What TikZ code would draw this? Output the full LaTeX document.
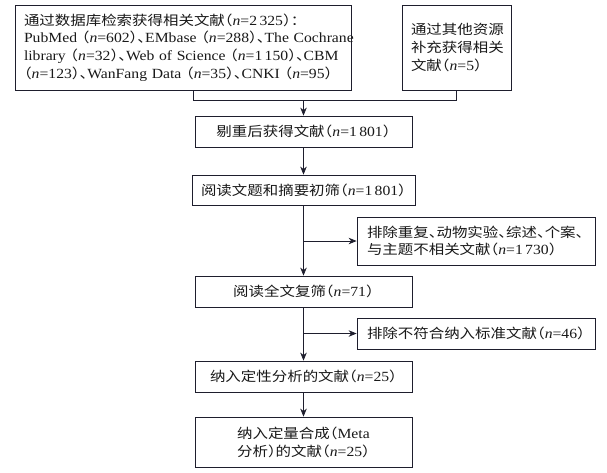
\documentclass[tikz,border=0pt]{standalone}
\usepackage{fontspec}
\setmainfont{Liberation Serif}[FakeStretch=1.12]
\newfontfamily\cjk{Noto Sans CJK SC}[Scale=0.96,FakeStretch=1.15,RawFeature={+halt}]
\usetikzlibrary{arrows.meta}
\newcommand{\C}[1]{{\cjk #1}}
\newcommand{\nn}{\textit{n}}
\newcommand{\dun}{\C{、}}
\definecolor{ln}{RGB}{30,30,45}
\definecolor{tx}{RGB}{25,25,25}
\begin{document}
\begin{tikzpicture}[x=1pt,y=-1pt,
  box/.style={draw=ln, line width=0.8pt, inner xsep=9pt, inner ysep=0pt,
    text=tx, font=\fontsize{14}{17.8}\selectfont},
  conn/.style={draw=ln, line width=0.8pt},
  arr/.style={conn, -{Stealth[length=8pt,width=6.5pt,inset=2.5pt]}}]
\useasboundingbox[fill=white] (0,0) rectangle (607,472);

\node[box, minimum width=336pt, minimum height=85pt, text width=318pt, align=left] (b1) at (183,47.5)
 {\mbox{\C{通过数据库检索获得相关文献（}\nn=2\,325\C{）：}}\\
  \mbox{PubMed \C{（}\nn=602\C{）}\dun EMbase \C{（}\nn=288\C{）}\dun The Cochrane}\\
  \mbox{library \C{（}\nn=32\C{）}\dun Web of Science \C{（}\nn=1\,150\C{）}\dun CBM}\\
  \mbox{\C{（}\nn=123\C{）}\dun WanFang Data \C{（}\nn=35\C{）}\dun CNKI \C{（}\nn=95\C{）}}};

\node[box, minimum width=109pt, minimum height=85pt, text width=91pt, align=left] (b2) at (456.5,47.5)
 {\mbox{\C{通过其他资源}}\\\mbox{\C{补充获得相关}}\\\mbox{\C{文献（}\nn=5\C{）}}};

\node[box, minimum width=217pt, minimum height=31pt] (b3) at (303.5,131.5)
 {\C{剔重后获得文献（}\nn=1\,801\C{）}};

\node[box, minimum width=217pt, minimum height=30pt] (b4) at (303.5,190)
 {\C{阅读文题和摘要初筛（}\nn=1\,801\C{）}};

\node[box, minimum width=238pt, minimum height=48pt, inner xsep=10pt, text width=218pt, align=left] (e1) at (476,241)
 {\mbox{\C{排除重复}\dun\C{动物实验}\dun\C{综述}\dun\C{个案}\dun}\\
  \mbox{\C{与主题不相关文献（}\nn=1\,730\C{）}}};

\node[box, minimum width=217pt, minimum height=31pt] (b5) at (303.5,291.5)
 {\C{阅读全文复筛（}\nn=71\C{）}};

\node[box, minimum width=238pt, minimum height=31pt, inner xsep=10pt, text width=218pt, align=left] (e2) at (476,333.5)
 {\mbox{\C{排除不符合纳入标准文献（}\nn=46\C{）}}};

\node[box, minimum width=217pt, minimum height=31pt] (b6) at (303.5,376.5)
 {\C{纳入定性分析的文献（}\nn=25\C{）}};

\node[box, minimum width=217pt, minimum height=50pt, align=left] (b7) at (303.5,442)
 {\C{纳入定量合成（}Meta\\\C{分析）的文献（}\nn=25\C{）}};

\coordinate (mL) at (193,100);
\draw[conn] (b1.south -| mL) -- (mL) -- (b2.south |- mL) -- (b2.south);
\draw[arr] (b3.north |- mL) -- (b3.north);
\draw[arr] (b3.south) -- (b4.north);
\draw[arr] (b4.south) -- (b5.north);
\draw[arr] (e1.west -| b4.south) -- (e1.west);
\draw[arr] (b5.south) -- (b6.north);
\draw[arr] (e2.west -| b5.south) -- (e2.west);
\draw[arr] (b6.south) -- (b7.north);
\end{tikzpicture}
\end{document}
